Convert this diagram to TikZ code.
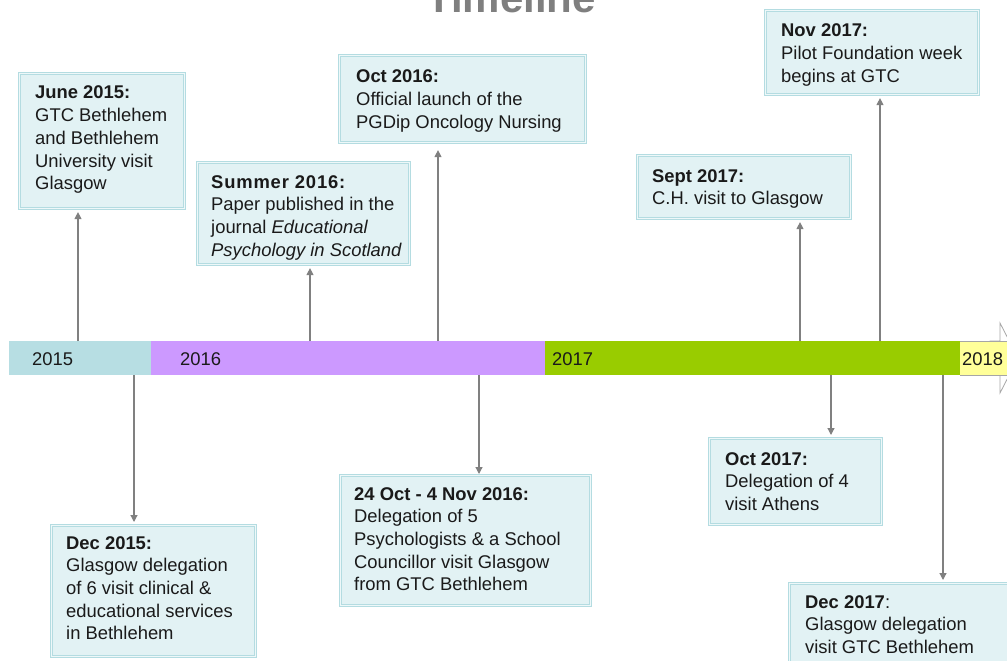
\documentclass[tikz,border=0pt]{standalone}
\usepackage{fontspec}
\setmainfont{Liberation Sans}
\usetikzlibrary{arrows.meta}
\definecolor{boxfill}{HTML}{E2F2F4}
\definecolor{boxedge}{HTML}{B4DCE1}
\definecolor{boxgap}{HTML}{EEF8F9}
\definecolor{txt}{HTML}{1A1A1A}
\definecolor{arrgray}{HTML}{808080}
\definecolor{titlegray}{HTML}{7F7F7F}
\definecolor{c2015}{HTML}{B7DEE3}
\definecolor{c2016}{HTML}{CC99FF}
\definecolor{c2017}{HTML}{99CC00}
\definecolor{c2018}{HTML}{FFFF99}
\definecolor{segline}{HTML}{A6A6A6}
\newcommand{\evlines}[1]{\begin{tabular}[t]{@{}l@{}}#1\end{tabular}}
\begin{document}
\begin{tikzpicture}[x=1pt,y=-1pt,
  evbox/.style={draw=boxedge, line width=1.1pt, double=boxgap, double distance=1.2pt,
    fill=boxfill, inner sep=0pt, anchor=north west},
  evtext/.style={anchor=base west, inner sep=0pt, text=txt, font=\fontsize{18.4}{22.7}\selectfont},
  seg/.style={inner sep=0pt, anchor=north west, minimum height=34pt},
  yearlab/.style={anchor=base west, inner sep=0pt, text=txt, font=\fontsize{18.4}{22}\selectfont},
  arr/.style={draw=arrgray, line width=1.2pt, -{Triangle[length=7pt,width=7pt]}, shorten >=3pt}
]
\useasboundingbox (0,0) rectangle (1007,661);
\clip (0,0) rectangle (1007,661);

% title (mostly cut off, as in the reference)
\node[anchor=base, inner sep=0pt, text=titlegray, font=\fontsize{42}{46}\selectfont\bfseries] (title) at (511,13) {Timeline};

% timeline bar
\node[seg, fill=c2015, minimum width=142pt] (s2015) at (9,341) {};
\node[seg, fill=c2016, minimum width=394pt] (s2016) at (151,341) {};
\node[seg, fill=c2017, minimum width=415pt] (s2017) at (545,341) {};
\path[draw=segline, line width=0.8pt, fill=white]
  (990,341) -- (1000,341) -- (1000,323) -- (1018,358) -- (1000,393) -- (1000,375) -- (990,375) -- cycle;
\path[fill=c2018] (960,341) rectangle (1012,375);
\draw[segline, line width=0.8pt] (960,341) -- (1012,341) (960,375) -- (1012,375);
\node[yearlab] (l2015) at (32,365) {2015};
\node[yearlab] (l2016) at (180,365) {2016};
\node[yearlab] (l2017) at (552,365) {2017};
\node[yearlab] (l2018) at (962,365) {2018};

% event boxes
\node[evbox, minimum width=165pt, minimum height=135pt] (jun15) at (19,73) {};
\node[evtext] (jun15t) at (35,99) {\evlines{\textbf{June 2015:}\\GTC Bethlehem\\and Bethlehem\\University visit\\Glasgow}};

\node[evbox, minimum width=212pt, minimum height=102pt] (sum16) at (197,162) {};
\node[evtext] (sum16t) at (211,188) {\evlines{\textbf{\addfontfeature{LetterSpace=4.5}Summer 2016:}\\Paper published in the\\journal \textit{Educational}\\\textit{Psychology in Scotland}}};

\node[evbox, minimum width=246pt, minimum height=87pt] (oct16) at (339,55) {};
\node[evtext] (oct16t) at (356,83) {\evlines{\textbf{Oct 2016:}\\Official launch of the\\PGDip Oncology Nursing}};

\node[evbox, minimum width=213pt, minimum height=84pt] (nov17) at (765,10) {};
\node[evtext] (nov17t) at (781,37) {\evlines{\textbf{Nov 2017:}\\Pilot Foundation week\\begins at GTC}};

\node[evbox, minimum width=213pt, minimum height=63pt] (sep17) at (637,155) {};
\node[evtext] (sep17t) at (652,182) {\evlines{\textbf{Sept 2017:}\\C.H. visit to Glasgow}};

\node[evbox, minimum width=204pt, minimum height=131pt] (dec15) at (51,525) {};
\node[evtext] (dec15t) at (66,549) {\evlines{\textbf{Dec 2015:}\\Glasgow delegation\\of 6 visit clinical \&\\educational services\\in Bethlehem}};

\node[evbox, minimum width=250pt, minimum height=130pt] (oct24) at (340,475) {};
\node[evtext] (oct24t) at (354,500) {\evlines{\textbf{24 Oct - 4 Nov 2016:}\\Delegation of 5\\Psychologists \& a School\\Councillor visit Glasgow\\from GTC Bethlehem}};

\node[evbox, minimum width=172pt, minimum height=86pt] (oct17) at (709,438) {};
\node[evtext] (oct17t) at (725,465) {\evlines{\textbf{Oct 2017:}\\Delegation of 4\\visit Athens}};

\node[evbox, minimum width=226pt, minimum height=90pt] (dec17) at (789,583) {};
\node[evtext] (dec17t) at (805,608) {\evlines{\textbf{Dec 2017}:\\Glasgow delegation\\visit GTC Bethlehem}};

% connectors (upwards)
\coordinate (u1) at (78,341);
\coordinate (u2) at (310,341);
\coordinate (u3) at (438,341);
\coordinate (u4) at (800,341);
\coordinate (u5) at (880,341);
\draw[arr] (u1) -- (u1 |- jun15.south);
\draw[arr] (u2) -- (u2 |- sum16.south);
\draw[arr, shorten >=7pt] (u3) -- (u3 |- oct16.south);
\draw[arr] (u4) -- (u4 |- sep17.south);
\draw[arr] (u5) -- (u5 |- nov17.south);
% connectors (downwards)
\coordinate (d1) at (134,375);
\coordinate (d2) at (479,375);
\coordinate (d3) at (831,375);
\coordinate (d4) at (943,375);
\draw[arr] (d1) -- (d1 |- dec15.north);
\draw[arr, shorten >=1pt] (d2) -- (d2 |- oct24.north);
\draw[arr] (d3) -- (d3 |- oct17.north);
\draw[arr] (d4) -- (d4 |- dec17.north);
\end{tikzpicture}
\end{document}
